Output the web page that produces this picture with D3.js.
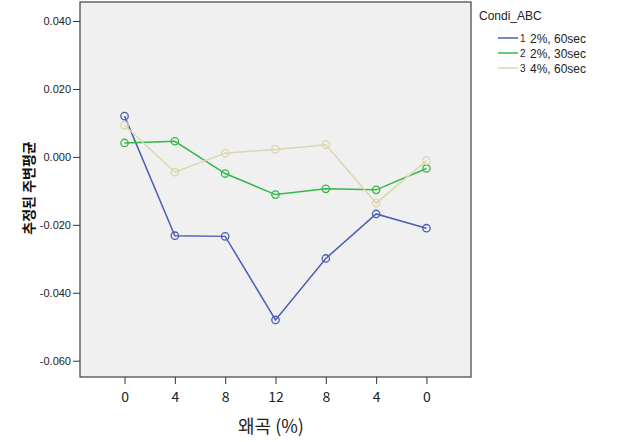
<!DOCTYPE html>
<html><head><meta charset="utf-8">
<script src="https://cdn.jsdelivr.net/npm/d3@7"></script>
<style>body{margin:0;background:#fff;} svg{display:block;}</style>
</head><body>
<script>
const categories = ["0","4","8","12","8 ","4 ","0 "];
const tickLabels = ["0","4","8","12","8","4","0"];
const seriesNames = ["2%, 60sec","2%, 30sec","4%, 60sec"];
const seriesIds = ["1","2","3"];
const series1 = [0.0120,-0.0232,-0.0234,-0.0480,-0.0299,-0.0168,-0.0210];
const series2 = [0.0041,0.0046,-0.0049,-0.0111,-0.0094,-0.0097,-0.0034];
const series3 = [0.0093,-0.0045,0.0011,0.0022,0.0036,-0.0136,-0.0011];
const yTicks = [0.040,0.020,0.000,-0.020,-0.040,-0.060];
const colors = ["#4a5fb3","#35b84a","#dcd6ac"];

const W=631,H=442;
const svg=d3.select("body").append("svg").attr("width",W).attr("height",H);
const L=80,R=471,T=2,B=377;
const x=d3.scalePoint().domain(categories).range([L,R]).padding(0.885);
const y=d3.scaleLinear().domain([-0.0648,0.0456]).range([B,T]);

svg.append("rect").attr("x",L).attr("y",T).attr("width",R-L).attr("height",B-T)
  .attr("fill","#f0f0f0").attr("stroke","#4d4d4d").attr("stroke-width",1.3);

const fmt = d => (d<0?"-":"") + Math.abs(d).toFixed(3);
const yAxis=svg.append("g").attr("transform",`translate(${L},0)`)
  .call(d3.axisLeft(y).tickValues(yTicks).tickFormat(fmt).tickSizeOuter(0).tickSize(7).tickPadding(2));
yAxis.select(".domain").remove();
yAxis.selectAll("text").attr("font-family","Liberation Sans, Arial, sans-serif").attr("font-size",11).attr("fill","#222");
yAxis.selectAll("line").attr("stroke","#333");

const xAxis=svg.append("g").attr("transform",`translate(0,${B})`)
  .call(d3.axisBottom(x).tickFormat((d,i)=>tickLabels[i]).tickSizeOuter(0).tickSize(7).tickPadding(8));
xAxis.select(".domain").remove();
xAxis.selectAll("text").attr("font-family","Noto Sans CJK KR, Noto Sans, sans-serif").attr("font-size",14).attr("fill","#222");
xAxis.selectAll("line").attr("stroke","#333");

svg.append("text").attr("x",271).attr("y",433).attr("text-anchor","middle")
  .attr("font-family","Noto Sans CJK KR, sans-serif").attr("font-size",18).attr("fill","#222").text("왜곡 (%)");

svg.append("text").attr("transform","translate(34,188) rotate(-90)").attr("text-anchor","middle")
  .attr("font-family","Noto Sans CJK KR, sans-serif").attr("font-size",14).attr("font-weight","bold").attr("fill","#111")
  .text("추정된 주변평균");

const all=[series1,series2,series3];
const line=d3.line().x((d,i)=>x(categories[i])).y(d=>y(d));
all.forEach((s,k)=>{
  svg.append("path").datum(s).attr("d",line).attr("fill","none").attr("stroke",colors[k]).attr("stroke-width",1.5);
});
all.forEach((s,k)=>{
  svg.selectAll(null).data(s).enter().append("circle")
    .attr("cx",(d,i)=>x(categories[i])).attr("cy",d=>y(d)).attr("r",3.7)
    .attr("fill","none").attr("stroke",colors[k]).attr("stroke-width",1.3);
});

// legend
svg.append("text").attr("x",479).attr("y",20).attr("font-family","Liberation Sans, Arial, sans-serif")
  .attr("font-size",12).attr("fill","#222").text("Condi_ABC");
seriesNames.forEach((n,k)=>{
  const yy=38+k*15;
  svg.append("line").attr("x1",498).attr("x2",518).attr("y1",yy).attr("y2",yy).attr("stroke",colors[k]).attr("stroke-width",1.5);
  svg.append("text").attr("x",520).attr("y",yy+4).attr("font-family","Liberation Sans, Arial, sans-serif")
    .attr("font-size",10).attr("fill","#222").text(seriesIds[k]);
  svg.append("text").attr("x",530).attr("y",yy+4.5).attr("font-family","Liberation Sans, Arial, sans-serif")
    .attr("font-size",12).attr("fill","#222").text(n);
});
</script>
</body></html>
